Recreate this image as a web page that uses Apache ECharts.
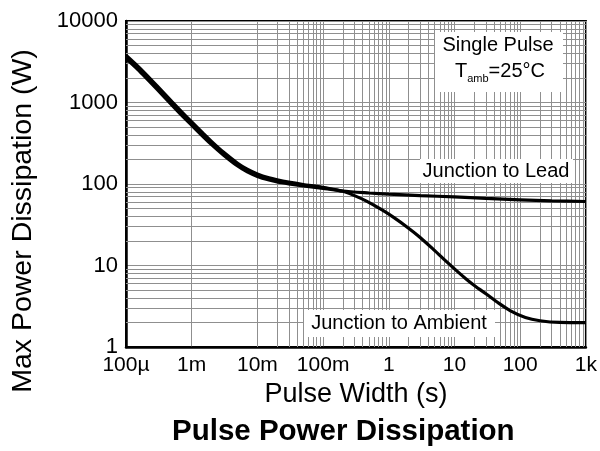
<!DOCTYPE html>
<html>
<head>
<meta charset="utf-8">
<script src="https://cdn.jsdelivr.net/npm/echarts@6/dist/echarts.min.js"></script>
<style>html,body{margin:0;padding:0;background:#fff}#c{width:600px;height:451px}</style>
</head>
<body>
<div id="c"></div>
<script>
// Pulse width (s) sample points and max power (W)
var leadX = [1e-4, 1.5e-4, 2e-4, 3e-4, 5e-4, 7e-4, 1e-3, 1.5e-3, 2e-3, 3e-3, 5e-3, 7e-3, 0.01, 0.015, 0.02, 0.03, 0.05, 0.1, 0.2, 0.5, 1, 3, 10, 30, 100, 300, 1000];
var leadY = [3800, 2806, 2228, 1585, 1026, 773, 577, 417, 333, 248, 180, 152, 133, 119, 112.5, 105.5, 98.6, 90.8, 82, 77.5, 75, 72, 69.5, 66.5, 64, 62, 61];
var ambX = [1e-4, 1.5e-4, 2e-4, 3e-4, 5e-4, 7e-4, 1e-3, 1.5e-3, 2e-3, 3e-3, 5e-3, 7e-3, 0.01, 0.015, 0.02, 0.03, 0.05, 0.1, 0.2, 0.3, 0.45, 0.79, 1.2, 2, 3, 4.6, 7, 10.4, 15, 21, 30, 47, 70, 120, 200, 400, 1000];
var ambY = [3450, 2550, 2020, 1440, 930, 700, 525, 380, 305, 229, 166, 141, 124, 112, 106, 100.5, 95, 88.5, 81.5, 72, 62, 48, 38.6, 28.7, 22.1, 16.2, 11.8, 8.83, 6.84, 5.52, 4.5, 3.45, 2.8, 2.3, 2.1, 2.0, 1.99];
var xTickLabels = ['100\u00b5', '1m', '10m', '100m', '1', '10', '100', '1k'];
var yTickLabels = ['1', '10', '100', '1000', '10000'];
var xDecades = [1e-4, 1e-3, 1e-2, 1e-1, 1, 10, 100];
var yDecades = [1, 10, 100, 1000];
var minorMult = [2, 3, 4, 5, 6, 7, 8, 9];

function pairs(xs, ys) { return xs.map(function (x, i) { return [x, ys[i]]; }); }

var gridLines = [];
xDecades.forEach(function (d) { minorMult.forEach(function (m) { gridLines.push({ xAxis: d * m }); }); });
yDecades.forEach(function (d) { minorMult.forEach(function (m) { gridLines.push({ yAxis: d * m }); }); });

var FONT = 'Liberation Sans, Arial, sans-serif';
var GRID = '#8f8f8f';
var chart = echarts.init(document.getElementById('c'));
chart.setOption({
  animation: false,
  backgroundColor: '#fff',
  title: {
    text: 'Pulse Power Dissipation',
    left: 167, top: 412,
    textStyle: { fontFamily: FONT, fontSize: 29.5, fontWeight: 'bold', color: '#000' }
  },
  grid: { left: 126, right: 13, top: 21, bottom: 104, show: true, borderColor: '#000', borderWidth: 2, containLabel: false },
  xAxis: {
    type: 'log', logBase: 10, min: 1e-4, max: 1000, splitNumber: 7,
    name: 'Pulse Width (s)', nameLocation: 'middle', nameGap: 32,
    nameTextStyle: { fontFamily: FONT, fontSize: 27, color: '#000' },
    axisLine: { lineStyle: { color: '#000', width: 2.5 } },
    axisTick: { show: false },
    axisLabel: {
      fontFamily: FONT, fontSize: 21, color: '#000', margin: 8,
      formatter: function (v) { return xTickLabels[Math.round(Math.log10(v)) + 4]; }
    },
    splitLine: { show: true, lineStyle: { color: GRID, width: 1 } }
  },
  yAxis: {
    type: 'log', logBase: 10, min: 1, max: 10000, splitNumber: 4,
    name: 'Max Power Dissipation (W)', nameLocation: 'middle', nameGap: 88,
    nameTextStyle: { fontFamily: FONT, fontSize: 28.5, color: '#000', padding: [0, 74, 0, 0] },
    axisLine: { show: true, lineStyle: { color: '#000', width: 2.5 } },
    axisTick: { show: false },
    axisLabel: {
      fontFamily: FONT, fontSize: 22, color: '#000', margin: 8,
      formatter: function (v) { return yTickLabels[Math.round(Math.log10(v))]; }
    },
    splitLine: { show: true, lineStyle: { color: GRID, width: 1 } }
  },
  graphic: [
    { type: 'rect', z: 3, shape: { x: 435, y: 32, width: 128, height: 60 }, style: { fill: '#fff' } },
    { type: 'text', z: 4, x: 498, y: 45, style: { text: 'Single Pulse', font: '20px ' + FONT, fill: '#000', textAlign: 'center', textVerticalAlign: 'middle' } },
    { type: 'text', z: 4, x: 500, y: 71, style: {
        text: '{a|T}{b|amb}{a|=25\u00b0C}', textAlign: 'center', textVerticalAlign: 'middle',
        rich: {
          a: { fontFamily: FONT, fontSize: 20, fill: '#000', color: '#000' },
          b: { fontFamily: FONT, fontSize: 11, fill: '#000', color: '#000', verticalAlign: 'bottom', padding: [16, 0, 0, 0] }
        } } },
    { type: 'rect', z: 3, shape: { x: 420, y: 159, width: 153, height: 24 }, style: { fill: '#fff' } },
    { type: 'text', z: 4, x: 496, y: 171, style: { text: 'Junction to Lead', font: '20px ' + FONT, fill: '#000', textAlign: 'center', textVerticalAlign: 'middle' } },
    { type: 'rect', z: 3, shape: { x: 304, y: 310, width: 191, height: 27 }, style: { fill: '#fff' } },
    { type: 'text', z: 4, x: 399, y: 323, style: { text: 'Junction to Ambient', font: '20px ' + FONT, fill: '#000', textAlign: 'center', textVerticalAlign: 'middle' } }
  ],
  series: [
    {
      name: 'grid', type: 'line', data: [], z: 1, silent: true,
      markLine: {
        silent: true, symbol: 'none', z: 1, animation: false,
        label: { show: false },
        lineStyle: { color: GRID, width: 1, type: 'solid' },
        emphasis: { disabled: true },
        data: gridLines
      }
    },
    {
      name: 'Junction to Lead', type: 'line', data: pairs(leadX, leadY), z: 5,
      smooth: 0.25, showSymbol: false, symbol: 'none',
      lineStyle: { color: '#000', width: 3.2 }
    },
    {
      name: 'Junction to Ambient', type: 'line', data: pairs(ambX, ambY), z: 5,
      smooth: 0.25, showSymbol: false, symbol: 'none',
      lineStyle: { color: '#000', width: 3.2 }
    }
  ]
});
</script>
</body>
</html>
